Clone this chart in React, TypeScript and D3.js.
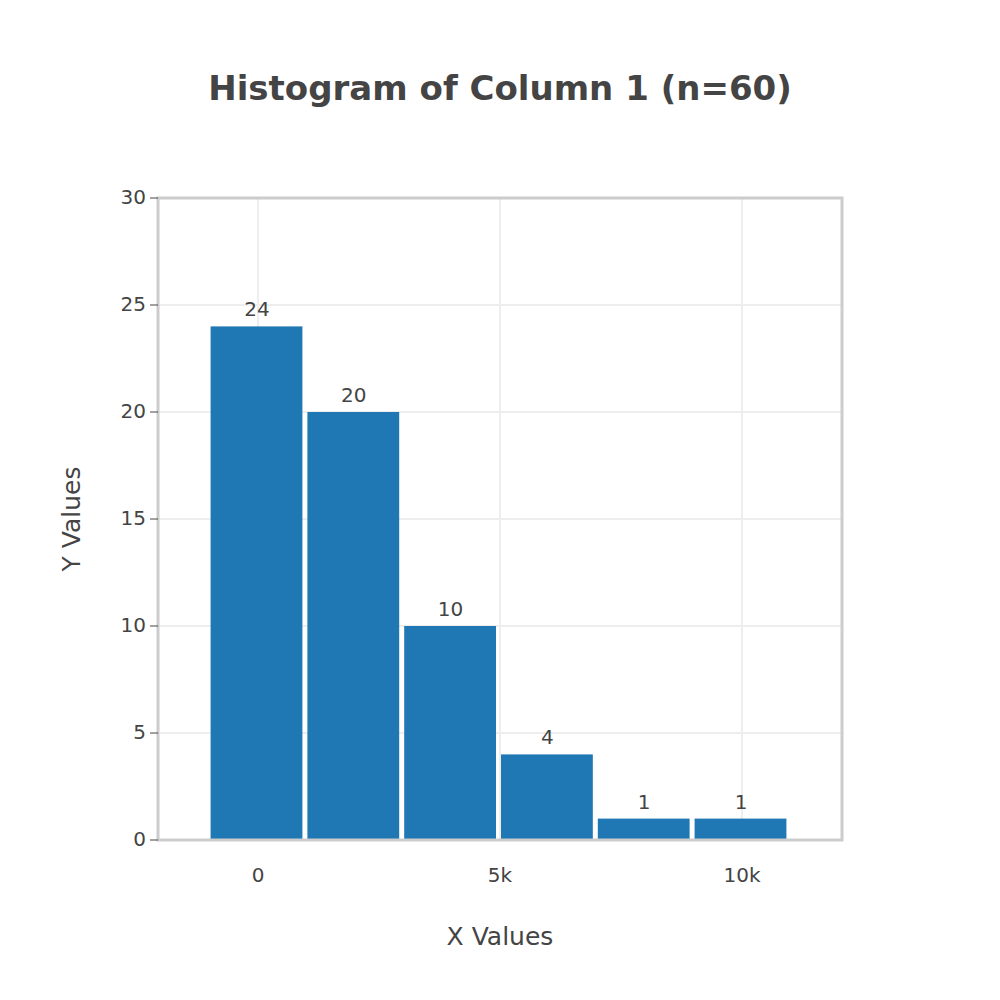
import * as d3 from 'd3';

const binStarts = [-1000, 1000, 3000, 5000, 7000, 9000];
const binWidth = 2000;
const counts = [24, 20, 10, 4, 1, 1];
const xTicks = [0, 5000, 10000];
const xTickLabels = ['0', '5k', '10k'];
const yTicks = [0, 5, 10, 15, 20, 25, 30];

export default function App() {
  const width = 1000;
  const height = 1000;
  const left = 158, right = 842, top = 198, bottom = 840;
  const font = '"DejaVu Sans", Verdana, sans-serif';
  const text = '#444';

  const x = d3.scaleLinear().domain([-2066, 12066]).range([left, right]);
  const y = d3.scaleLinear().domain([0, 30]).range([bottom, top]);

  return (
    <svg width={width} height={height} style={{ display: 'block', margin: -8 }} fontFamily={font}>
      <rect width={width} height={height} fill="#fff" />
      <text x={500} y={100} textAnchor="middle" fontSize={34} fontWeight="bold" fill={text}>
        Histogram of Column 1 (n=60)
      </text>

      {/* grid */}
      {yTicks.map(t => (
        <line key={'gy' + t} x1={left} x2={right} y1={y(t)} y2={y(t)} stroke="#eee" strokeWidth={2} />
      ))}
      {xTicks.map(t => (
        <line key={'gx' + t} x1={x(t)} x2={x(t)} y1={top} y2={bottom} stroke="#eee" strokeWidth={2} />
      ))}

      {/* bars */}
      {counts.map((c, i) => {
        const x0 = x(binStarts[i]);
        const x1 = x(binStarts[i] + binWidth);
        return (
          <g key={i}>
            <rect x={x0 + 1} y={y(c)} width={x1 - x0 - 5} height={bottom - y(c)} fill="#1f77b4" />
            <text x={(x0 + x1) / 2 - 1} y={y(c) - 10} textAnchor="middle" fontSize={20} fill={text}>
              {c}
            </text>
          </g>
        );
      })}

      {/* zero line */}
      <line x1={left} x2={right} y1={bottom} y2={bottom} stroke="#444" strokeWidth={1} />
      {/* frame */}
      <rect x={left} y={top} width={right - left} height={bottom - top} fill="none" stroke="#ccc" strokeWidth={3} />

      {/* y axis ticks */}
      {yTicks.map(t => (
        <g key={'ty' + t}>
          <line x1={left - 8} x2={left} y1={y(t)} y2={y(t)} stroke="#444" strokeWidth={1} />
          <text x={left - 12} y={y(t)} textAnchor="end" dominantBaseline="middle" fontSize={20} fill={text}>
            {t}
          </text>
        </g>
      ))}
      {xTicks.map((t, i) => (
        <text key={'tx' + t} x={x(t)} y={bottom + 42} textAnchor="middle" fontSize={20} fill={text}>
          {xTickLabels[i]}
        </text>
      ))}

      <text x={500} y={945} textAnchor="middle" fontSize={25} fill={text}>X Values</text>
      <text transform={`translate(80,${(top + bottom) / 2}) rotate(-90)`} textAnchor="middle" fontSize={25} fill={text}>
        Y Values
      </text>
    </svg>
  );
}
